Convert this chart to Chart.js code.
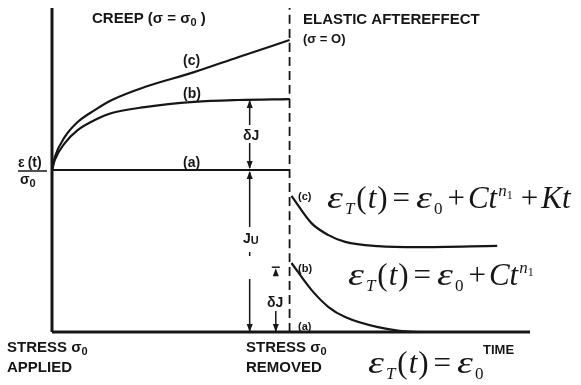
<!DOCTYPE html>
<html>
<head>
<meta charset="utf-8">
<script src="https://cdn.jsdelivr.net/npm/chart.js@4"></script>
<style>
html, body { margin: 0; padding: 0; background: #fff; }
canvas { display: block; }
</style>
</head>
<body>
<canvas id="creep_chart" width="581" height="385"></canvas>
<script>
// time: stress applied at 0, removed at 5
var creepTime = [0, 0.06, 0.27, 0.54, 0.90, 1.26, 1.95, 2.99, 3.93, 5.0];
var creepA = [5.0, 5.0, 5.0, 5.0, 5.0, 5.0, 5.0, 5.0, 5.0, 5.0];
var creepB = [5.0, 5.31, 5.83, 6.23, 6.54, 6.76, 6.94, 7.10, 7.16, 7.19];
var creepC = [5.0, 5.40, 6.02, 6.48, 6.85, 7.16, 7.56, 8.02, 8.49, 9.01];

var recoveryTime = [5.04, 5.46, 5.82, 6.17, 6.86, 7.70, 9.37];
var recoveryB = [2.13, 1.30, 0.77, 0.46, 0.15, 0.0, 0.0];
var recoveryC = [4.20, 3.36, 2.99, 2.78, 2.65, 2.62, 2.66];

var stressRemoved = 5;
var timeMax = 10.06;
var strainMax = 10;

// dimension arrows: time position and strain ends
var arrowTimes = [4.16, 4.71];
var lowerDeltaJ = 2.0;

var INK = '#161616';

function pts(xs, ys) {
    return xs.map(function (x, i) { return { x: x, y: ys[i] }; });
}

function line(data, width, extra) {
    var ds = {
        data: data,
        showLine: true,
        borderColor: INK,
        borderWidth: width,
        pointRadius: 0,
        cubicInterpolationMode: 'monotone',
        clip: false
    };
    for (var k in extra) ds[k] = extra[k];
    return ds;
}

// draws a run of text pieces one after another: [text, font, dy, gapAfter, xScale]
function rich(ctx, x, y, parts) {
    parts.forEach(function (p) {
        var sx = p[4] || 1;
        ctx.font = p[1];
        ctx.save();
        ctx.translate(x, y + (p[2] || 0));
        ctx.scale(sx, 1);
        ctx.fillText(p[0], 0, 0);
        ctx.restore();
        x += ctx.measureText(p[0]).width * sx + (p[3] || 0);
    });
    return x;
}

function head(ctx, x, y, dir) {
    ctx.beginPath();
    ctx.moveTo(x, y);
    ctx.lineTo(x - 3, y - dir * 8);
    ctx.lineTo(x + 3, y - dir * 8);
    ctx.closePath();
    ctx.fill();
}

function seg(ctx, x, y1, y2) {
    ctx.beginPath();
    ctx.moveTo(x, y1);
    ctx.lineTo(x, y2);
    ctx.stroke();
}

var annotations = {
    id: 'annotations',
    afterDatasetsDraw: function (chart) {
        var ctx = chart.ctx;
        var xs = chart.scales.x, ys = chart.scales.y;
        ctx.save();
        ctx.fillStyle = INK;
        ctx.strokeStyle = INK;
        ctx.lineWidth = 1.5;
        ctx.textBaseline = 'alphabetic';

        // δJ and J_U arrows at end of creep
        var ax = xs.getPixelForValue(arrowTimes[0]);
        var yB = ys.getPixelForValue(creepB[creepB.length - 1]);
        var yA = ys.getPixelForValue(creepA[creepA.length - 1]);
        var y0 = ys.getPixelForValue(0);
        seg(ctx, ax, yB + 2, 125);
        seg(ctx, ax, 143, yA - 2);
        head(ctx, ax, yB + 1, -1);
        head(ctx, ax, yA - 1, 1);
        seg(ctx, ax, yA + 2, 227);
        seg(ctx, ax, 252, 256);
        seg(ctx, ax, 279, y0);
        head(ctx, ax, yA + 1, -1);
        head(ctx, ax, y0, 1);

        // δJ arrow after removal
        var bx = xs.getPixelForValue(arrowTimes[1]);
        var yT = ys.getPixelForValue(lowerDeltaJ);
        ctx.beginPath();
        ctx.moveTo(bx - 4, yT); ctx.lineTo(bx + 4, yT); ctx.stroke();
        head(ctx, bx, yT + 1, -1);
        seg(ctx, bx, 311, y0);
        head(ctx, bx, y0, 1);

        // lettering
        var L = 'bold 15px "Liberation Sans"';
        var Ls = 'bold 11px "Liberation Sans"';
        var Lm = 'bold 14px "Liberation Sans"';
        var Lr = 'bold 11px "Liberation Sans"';
        rich(ctx, 92, 23, [['CREEP (σ = σ', L], ['0', Ls, 3], [' )', L]]);
        rich(ctx, 303, 24, [['ELASTIC AFTEREFFECT', L]]);
        rich(ctx, 303, 43, [['(σ = O)', 'bold 13px "Liberation Sans"']]);
        rich(ctx, 183, 65, [['(c)', Lm]]);
        rich(ctx, 183, 98, [['(b)', Lm]]);
        rich(ctx, 183, 167, [['(a)', Lm]]);
        rich(ctx, 243, 140, [['δJ', Lm]]);
        rich(ctx, 243, 243, [['J', Lm], ['U', Ls, 1]]);
        rich(ctx, 267, 307, [['δJ', Lm]]);
        rich(ctx, 298, 200, [['(c)', Lr]]);
        rich(ctx, 298, 272, [['(b)', Lr]]);
        rich(ctx, 298, 330, [['(a)', Lr]]);
        rich(ctx, 7, 352, [['STRESS σ', L], ['0', Ls, 3]]);
        rich(ctx, 7, 372, [['APPLIED', L]]);
        rich(ctx, 246, 352, [['STRESS σ', L], ['0', Ls, 3]]);
        rich(ctx, 246, 372, [['REMOVED', L]]);
        rich(ctx, 483, 354, [['TIME', 'bold 13px "Liberation Sans"']]);

        // ε(t)/σ0 on the strain axis
        rich(ctx, 18, 167, [['ε', Lm, 0, 3], ['(t)', Lm]]);
        ctx.beginPath();
        ctx.moveTo(18, 171); ctx.lineTo(47, 171); ctx.stroke();
        rich(ctx, 20, 184, [['σ', Lm], ['0', Ls, 3]]);

        // constitutive equations
        var S = '"Liberation Serif", "Times New Roman", serif';
        var I = 'italic 31px ' + S, R = '31px ' + S;
        var Is = 'italic 17px ' + S, Rs = '17px ' + S, Rt = '12px ' + S;
        var eps = ['ε', I, 0, 2, 1.3];
        var lhs = [eps, ['T', Is, 6, 2], ['(', R, 0, 1], ['t', I, 0, 1], [')', R, 0, 5],
            ['=', R, 0, 6], eps, ['0', Rs, 6, 5]];
        var power = [['+', R, 0, 3], ['C', I], ['t', I, 0, 1], ['n', Is, -12], ['1', Rt, -9, 8]];
        rich(ctx, 327, 208, lhs.concat(power, [['+', R, 0, 3], ['K', I], ['t', I]]));
        rich(ctx, 348, 285, lhs.concat(power));
        rich(ctx, 368, 373, lhs);
        ctx.restore();
    }
};

var chart = new Chart(document.getElementById('creep_chart').getContext('2d'), {
    type: 'scatter',
    data: {
        datasets: [
            // axes
            line([{ x: 0, y: 0 }, { x: timeMax, y: 0 }], 3),
            line([{ x: 0, y: 0 }, { x: 0, y: strainMax }], 3),
            // stress removed
            line([{ x: stressRemoved, y: 0 }, { x: stressRemoved, y: strainMax }], 1.8, { borderDash: [9, 5] }),
            // creep under constant stress
            line(pts(creepTime, creepA), 2.2),
            line(pts(creepTime, creepB), 2.2),
            line(pts(creepTime, creepC), 2.2),
            // recovery after unloading
            line(pts(recoveryTime, recoveryB), 2.2),
            line(pts(recoveryTime, recoveryC), 2.2)
        ]
    },
    options: {
        responsive: false,
        animation: false,
        layout: { padding: { left: 52, right: 51, top: 8, bottom: 53 } },
        plugins: {
            legend: { display: false },
            tooltip: { enabled: false }
        },
        scales: {
            x: { type: 'linear', min: 0, max: timeMax, display: false },
            y: { type: 'linear', min: 0, max: strainMax, display: false }
        }
    },
    plugins: [annotations]
});
</script>
</body>
</html>
